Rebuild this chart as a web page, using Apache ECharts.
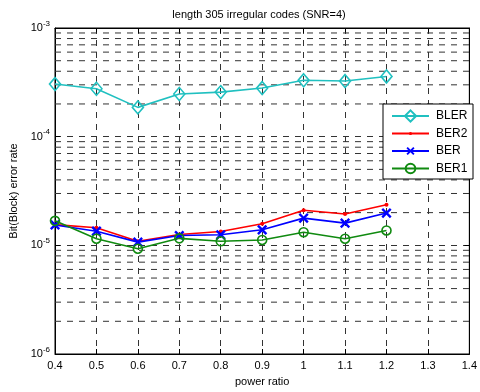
<!DOCTYPE html>
<html>
<head>
<meta charset="utf-8">
<script src="https://cdn.jsdelivr.net/npm/echarts@6/dist/echarts.min.js"></script>
<style>
html,body{margin:0;padding:0;background:#fff;}
#chart{width:480px;height:392px;}
</style>
</head>
<body>
<div id="chart"></div>
<script>
// ---- data ----
var powerRatio = [0.4, 0.5, 0.6, 0.7, 0.8, 0.9, 1.0, 1.1, 1.2];
var bler = [3.05e-4, 2.76e-4, 1.86e-4, 2.47e-4, 2.57e-4, 2.80e-4, 3.30e-4, 3.25e-4, 3.58e-4];
var ber2 = [1.55e-5, 1.45e-5, 1.09e-5, 1.26e-5, 1.34e-5, 1.58e-5, 2.10e-5, 1.94e-5, 2.36e-5];
var ber  = [1.54e-5, 1.35e-5, 1.07e-5, 1.23e-5, 1.25e-5, 1.39e-5, 1.78e-5, 1.60e-5, 1.98e-5];
var ber1 = [1.68e-5, 1.15e-5, 9.3e-6, 1.16e-5, 1.09e-5, 1.12e-5, 1.32e-5, 1.15e-5, 1.37e-5];
var seriesNames = ['BLER', 'BER2', 'BER', 'BER1'];
var titleText = 'length 305 irregular codes (SNR=4)';
var xName = 'power ratio';
var yName = 'Bit(Block) error rate';
var xMin = 0.4, xMax = 1.4, xStep = 0.1;
var yMin = 1e-6, yMax = 1e-3;

function pairs(xs, ys) { return xs.map(function (x, i) { return [x, ys[i]]; }); }

var FONT = 'Liberation Sans, Arial, Helvetica, sans-serif';
var gridDash = { color: '#333', width: 1, type: [6, 6] };

// minor log grid lines (2..9 x 10^n), drawn as silent helper series
var minorSeries = [];
for (var e = -6; e <= -4; e++) {
  for (var k = 2; k <= 9; k++) {
    var v = k * Math.pow(10, e);
    minorSeries.push({
      type: 'line', silent: true, symbol: 'none', z: 1,
      data: [[xMin, v], [xMax, v]],
      lineStyle: gridDash,
      emphasis: { disabled: true },
      tooltip: { show: false }
    });
  }
}

// legend: one component per entry so each marker keeps its own size
var legendBox = { x: 383, y: 104, w: 90, h: 75 };
var legendCenters = [116, 133.5, 151, 168.5];
var legendItemHeights = [14, 4, 12, 12];
var legends = seriesNames.map(function (n, i) {
  return {
    data: [n],
    left: 391,
    top: legendCenters[i] - 7,
    padding: 0,
    itemWidth: 37,
    itemHeight: legendItemHeights[i],
    itemGap: 0,
    selectedMode: false,
    z: 11,
    textStyle: { fontSize: 12, color: '#000', fontFamily: FONT, padding: [0, 0, 0, 2], height: 14, lineHeight: 14 }
  };
});

var chart = echarts.init(document.getElementById('chart'), null, { renderer: 'canvas' });
var option = {
  animation: false,
  backgroundColor: '#fff',
  textStyle: { fontFamily: FONT },
  title: {
    text: titleText,
    left: 254,
    textAlign: 'center',
    top: 4,
    textStyle: { fontSize: 11, fontWeight: 'normal', color: '#000', fontFamily: FONT }
  },
  grid: {
    left: 55, right: 7, top: 28, bottom: 35,
    show: true, borderColor: '#000', borderWidth: 1, backgroundColor: 'transparent'
  },
  graphic: [{
    type: 'rect',
    z: 10,
    shape: { x: legendBox.x, y: legendBox.y, width: legendBox.w, height: legendBox.h },
    style: { fill: '#fff', stroke: '#000', lineWidth: 1 }
  }],
  legend: legends,
  xAxis: [{
    type: 'value',
    min: xMin, max: xMax, interval: xStep,
    name: xName,
    nameLocation: 'middle',
    nameGap: 22,
    nameTextStyle: { fontSize: 11, color: '#000', fontFamily: FONT },
    axisLine: { show: true, lineStyle: { color: '#000', width: 1 } },
    axisTick: { show: true, inside: true, length: 5, lineStyle: { color: '#000' } },
    axisLabel: { fontSize: 11, color: '#000', margin: 6, fontFamily: FONT },
    splitLine: { show: true, lineStyle: gridDash }
  }, {
    type: 'value',
    position: 'top',
    min: xMin, max: xMax, interval: xStep,
    axisLine: { show: true, lineStyle: { color: '#000' } },
    axisTick: { show: true, inside: true, length: 5, lineStyle: { color: '#000' } },
    axisLabel: { show: false },
    splitLine: { show: false }
  }],
  yAxis: [{
    type: 'log',
    logBase: 10,
    min: yMin, max: yMax,
    name: yName,
    nameLocation: 'middle',
    nameGap: 35,
    nameTextStyle: { fontSize: 11, color: '#000', fontFamily: FONT },
    axisLine: { show: true, lineStyle: { color: '#000', width: 1 } },
    axisTick: { show: true, inside: true, length: 5, lineStyle: { color: '#000' } },
    axisLabel: {
      margin: 5,
      color: '#000',
      formatter: function (v) {
        var ex = Math.round(Math.log(v) / Math.LN10);
        return '{b|10}{s|' + ex + '}';
      },
      rich: {
        b: { fontSize: 11, color: '#000', fontFamily: FONT },
        s: { fontSize: 8, color: '#000', fontFamily: FONT, padding: [0, 0, 9, 0] }
      }
    },
    splitLine: { show: true, lineStyle: gridDash }
  }, {
    type: 'log',
    logBase: 10,
    position: 'right',
    min: yMin, max: yMax,
    axisLine: { show: true, lineStyle: { color: '#000' } },
    axisTick: { show: true, inside: true, length: 5, lineStyle: { color: '#000' } },
    axisLabel: { show: false },
    splitLine: { show: false }
  }],
  series: minorSeries.concat([
    {
      name: 'BLER', type: 'line', data: pairs(powerRatio, bler),
      symbol: 'diamond', symbolSize: [11, 13],
      lineStyle: { color: '#20c0c0', width: 1.6 },
      itemStyle: { color: 'rgba(255,255,255,0)', borderColor: '#20c0c0', borderWidth: 1.6 },
      z: 3
    },
    {
      name: 'BER2', type: 'line', data: pairs(powerRatio, ber2),
      symbol: 'circle', symbolSize: 4,
      lineStyle: { color: '#ff0000', width: 1.6 },
      itemStyle: { color: '#ff0000' },
      z: 4
    },
    {
      name: 'BER', type: 'line', data: pairs(powerRatio, ber),
      symbol: 'path://M4,0H6V4H10V6H6V10H4V6H0V4H4Z', symbolSize: 12, symbolRotate: 45,
      lineStyle: { color: '#0000ff', width: 1.6 },
      itemStyle: { color: '#0000ff' },
      z: 5
    },
    {
      name: 'BER1', type: 'line', data: pairs(powerRatio, ber1),
      symbol: 'circle', symbolSize: 9,
      lineStyle: { color: '#108a10', width: 1.6 },
      itemStyle: { color: 'rgba(255,255,255,0)', borderColor: '#108a10', borderWidth: 1.6 },
      z: 6
    }
  ])
};
chart.setOption(option);
</script>
</body>
</html>
